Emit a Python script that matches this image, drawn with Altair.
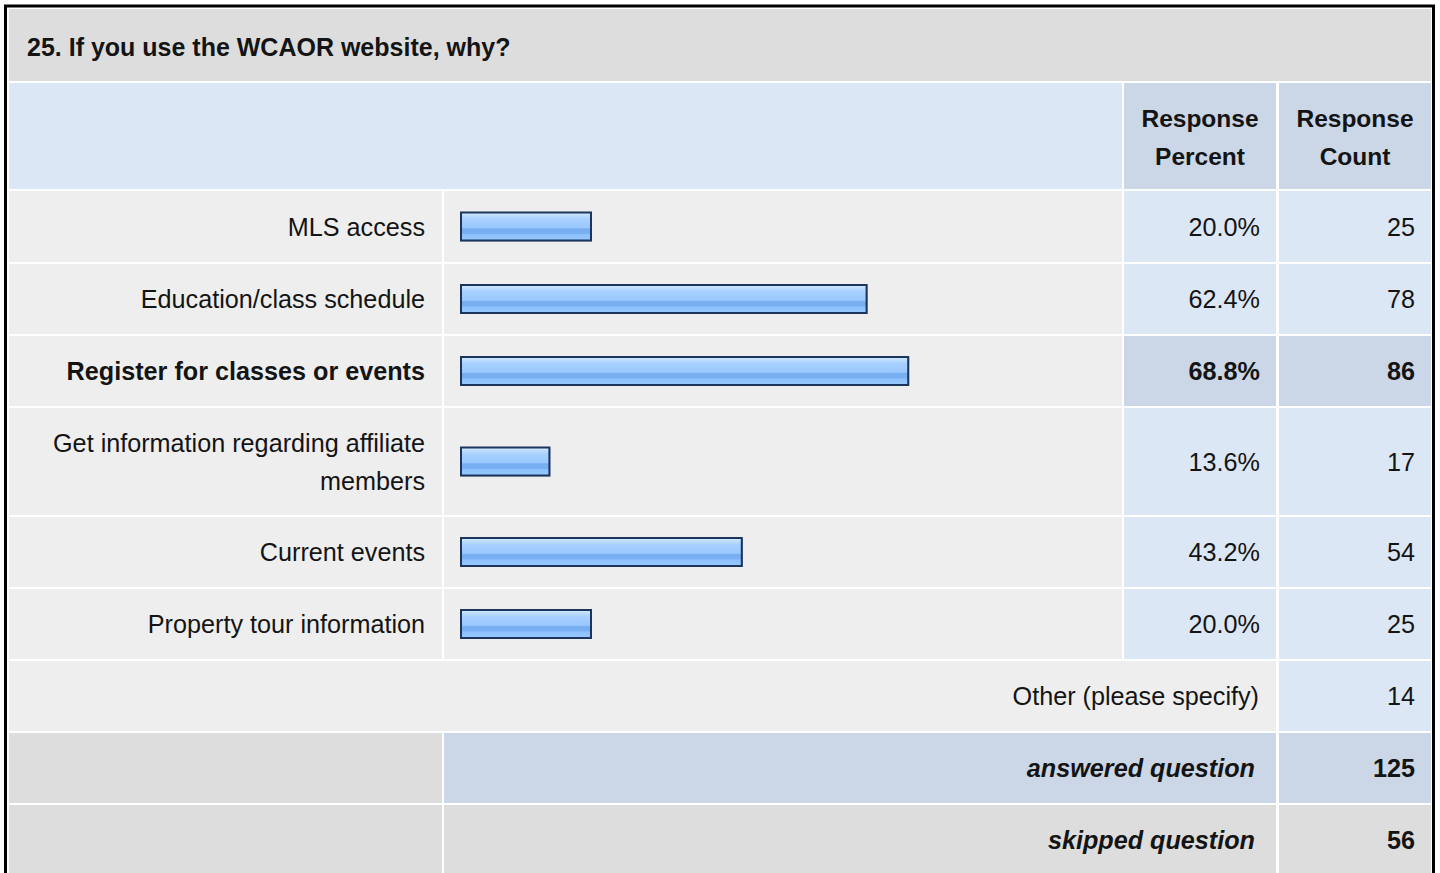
import altair as alt
import pandas as pd

# ---- survey results -------------------------------------------------------
title = "25. If you use the WCAOR website, why?"
choices = [
    "MLS access",
    "Education/class schedule",
    "Register for classes or events",
    "Get information regarding affiliate\nmembers",
    "Current events",
    "Property tour information",
]
percents = [20.0, 62.4, 68.8, 13.6, 43.2, 20.0]
counts = [25, 78, 86, 17, 54, 25]
other_label = "Other (please specify)"
other_count = 14
answered_label = "answered question"
answered_count = 125
skipped_label = "skipped question"
skipped_count = 56

# ---- styling ----------------------------------------------------------------
W, H = 1440, 873
FONT = "Liberation Sans"
FS = 25.2          # body text
FS_HEAD = 24.5     # column headers
FS_TITLE = 25
LINE_H = 38
INK = "#141414"
GREY_DARK = "#dddddd"
GREY = "#eeeeee"
BLUE = "#dce7f5"
BLUE_DARK = "#cbd7e6"

# table grid: column spans and row heights, 2px white gutters
cols = [(9, 442), (444, 1122), (1124, 1276), (1279, 1431)]
row_heights = [72, 106, 71, 70, 70, 107, 70, 70, 70, 70, 70]
rows = []
top = 9
for h in row_heights:
    rows.append((top, top + h))
    top += h + 2

def mid(span):
    return (span[0] + span[1]) / 2

best = max(range(len(percents)), key=lambda i: percents[i])

# ---- cell backgrounds -------------------------------------------------------
cells = []
def cell(c0, c1, r, color):
    cells.append({"x": cols[c0][0], "x2": cols[c1][1],
                  "y": rows[r][0], "y2": rows[r][1], "fill": color})

cell(0, 3, 0, GREY_DARK)          # question title
cell(0, 1, 1, BLUE)               # header filler
cell(2, 2, 1, BLUE_DARK)
cell(3, 3, 1, BLUE_DARK)
for i in range(len(choices)):
    r = 2 + i
    hl = BLUE_DARK if i == best else BLUE
    cell(0, 0, r, GREY)
    cell(1, 1, r, GREY)
    cell(2, 2, r, hl)
    cell(3, 3, r, hl)
r_other = 2 + len(choices)
cell(0, 2, r_other, GREY)
cell(3, 3, r_other, BLUE)
r_ans, r_skip = r_other + 1, r_other + 2
cell(0, 0, r_ans, GREY_DARK)
cell(1, 2, r_ans, BLUE_DARK)
cell(3, 3, r_ans, BLUE_DARK)
cell(0, 0, r_skip, GREY_DARK)
cell(1, 2, r_skip, GREY_DARK)
cell(3, 3, r_skip, GREY_DARK)
cells_df = pd.DataFrame(cells)

px_x = alt.Scale(domain=[0, W], range=[0, W], nice=False, zero=False)
px_y = alt.Scale(domain=[0, H], reverse=True, nice=False, zero=False)

cell_layer = alt.Chart(cells_df).mark_rect().encode(
    x=alt.X("x:Q", scale=px_x, axis=None),
    x2="x2:Q",
    y=alt.Y("y:Q", scale=px_y, axis=None),
    y2="y2:Q",
    fill=alt.Fill("fill:N", scale=None),
)

frame_df = pd.DataFrame([{"x": 5.5, "x2": 1433.5, "y": 6, "y2": H + 20}])
frame_layer = alt.Chart(frame_df).mark_rect(
    fill=None, stroke="#000000", strokeWidth=3, clip=True
).encode(
    x=alt.X("x:Q", scale=px_x, axis=None),
    x2="x2:Q",
    y=alt.Y("y:Q", scale=px_y, axis=None),
    y2="y2:Q",
)

# ---- bars -------------------------------------------------------------------
bar_df = pd.DataFrame({
    "choice": choices,
    "base": [0.0] * len(percents),
    "pct": percents,
    "y": [mid(rows[2 + i]) - 14 for i in range(len(choices))],
    "y2": [mid(rows[2 + i]) + 14 for i in range(len(choices))],
})
pct_scale = alt.Scale(domain=[0, 100], range=[461, 1111], nice=False, zero=True)

bar_enc = dict(
    x=alt.X("base:Q", scale=pct_scale, axis=None),
    x2="pct:Q",
    y=alt.Y("y:Q", scale=px_y, axis=None),
    y2="y2:Q",
)
shadow_layer = alt.Chart(bar_df).mark_rect(
    fill=None, stroke="#9aa7ba", strokeWidth=2, xOffset=1, yOffset=1
).encode(**bar_enc)

bar_fill = alt.Gradient(
    gradient="linear", x1=0, x2=0, y1=0, y2=1,
    stops=[
        alt.GradientStop(color="#d4eaff", offset=0.0),
        alt.GradientStop(color="#bcdcff", offset=0.12),
        alt.GradientStop(color="#a6d0ff", offset=0.25),
        alt.GradientStop(color="#9ac8ff", offset=0.55),
        alt.GradientStop(color="#78aef2", offset=0.58),
        alt.GradientStop(color="#78aef2", offset=0.75),
        alt.GradientStop(color="#8cc0fc", offset=0.78),
        alt.GradientStop(color="#98c9ff", offset=1.0),
    ],
)
bar_layer = alt.Chart(bar_df).mark_rect(
    fill=bar_fill, stroke="#1b355c", strokeWidth=2
).encode(**bar_enc)

# ---- text -------------------------------------------------------------------
texts = []
def put(x, y, s, align="right", weight="normal", style="normal", size=FS):
    # multi-line strings start above the centre so the block stays centred
    n = s.count("\n") + 1
    texts.append({"x": x, "y": y - (n - 1) * LINE_H / 2, "text": s,
                  "align": align, "weight": weight, "style": style, "size": size})

put(27, mid(rows[0]) + 3, title, align="left", weight="bold", size=FS_TITLE)
put(mid(cols[2]), mid(rows[1]) + 3, "Response\nPercent", align="center", weight="bold", size=FS_HEAD)
put(mid(cols[3]), mid(rows[1]) + 3, "Response\nCount", align="center", weight="bold", size=FS_HEAD)
for i, (c, p, n) in enumerate(zip(choices, percents, counts)):
    w = "bold" if i == best else "normal"
    yc = mid(rows[2 + i]) + 1
    put(425, yc, c, weight=w)
    put(1260, yc, f"{p:.1f}%", weight=w)
    put(1415, yc, str(n), weight=w)
put(1259, mid(rows[r_other]) + 1, other_label)
put(1415, mid(rows[r_other]) + 1, str(other_count))
put(1255, mid(rows[r_ans]) + 1, answered_label, weight="bold", style="italic")
put(1415, mid(rows[r_ans]) + 1, str(answered_count), weight="bold")
put(1255, mid(rows[r_skip]) + 1, skipped_label, weight="bold", style="italic")
put(1415, mid(rows[r_skip]) + 1, str(skipped_count), weight="bold")
text_df = pd.DataFrame(texts)

text_layers = []
for (align, weight, style, size), sub in text_df.groupby(["align", "weight", "style", "size"]):
    text_layers.append(
        alt.Chart(sub).mark_text(
            align=align, baseline="middle", font=FONT, fontSize=float(size),
            fontWeight=weight, fontStyle=style, color=INK,
            lineBreak="\n", lineHeight=LINE_H,
        ).encode(
            x=alt.X("x:Q", scale=px_x, axis=None),
            y=alt.Y("y:Q", scale=px_y, axis=None),
            text="text:N",
        )
    )

chart = alt.layer(
    cell_layer, frame_layer, shadow_layer, bar_layer, *text_layers
).resolve_scale(
    x="independent"
).properties(
    width=W, height=H, padding=0,
    autosize=alt.AutoSizeParams(type="none"),
    background="white",
).configure_view(stroke=None)

chart.save("out.html", embed_options={"renderer": "svg", "actions": False})
